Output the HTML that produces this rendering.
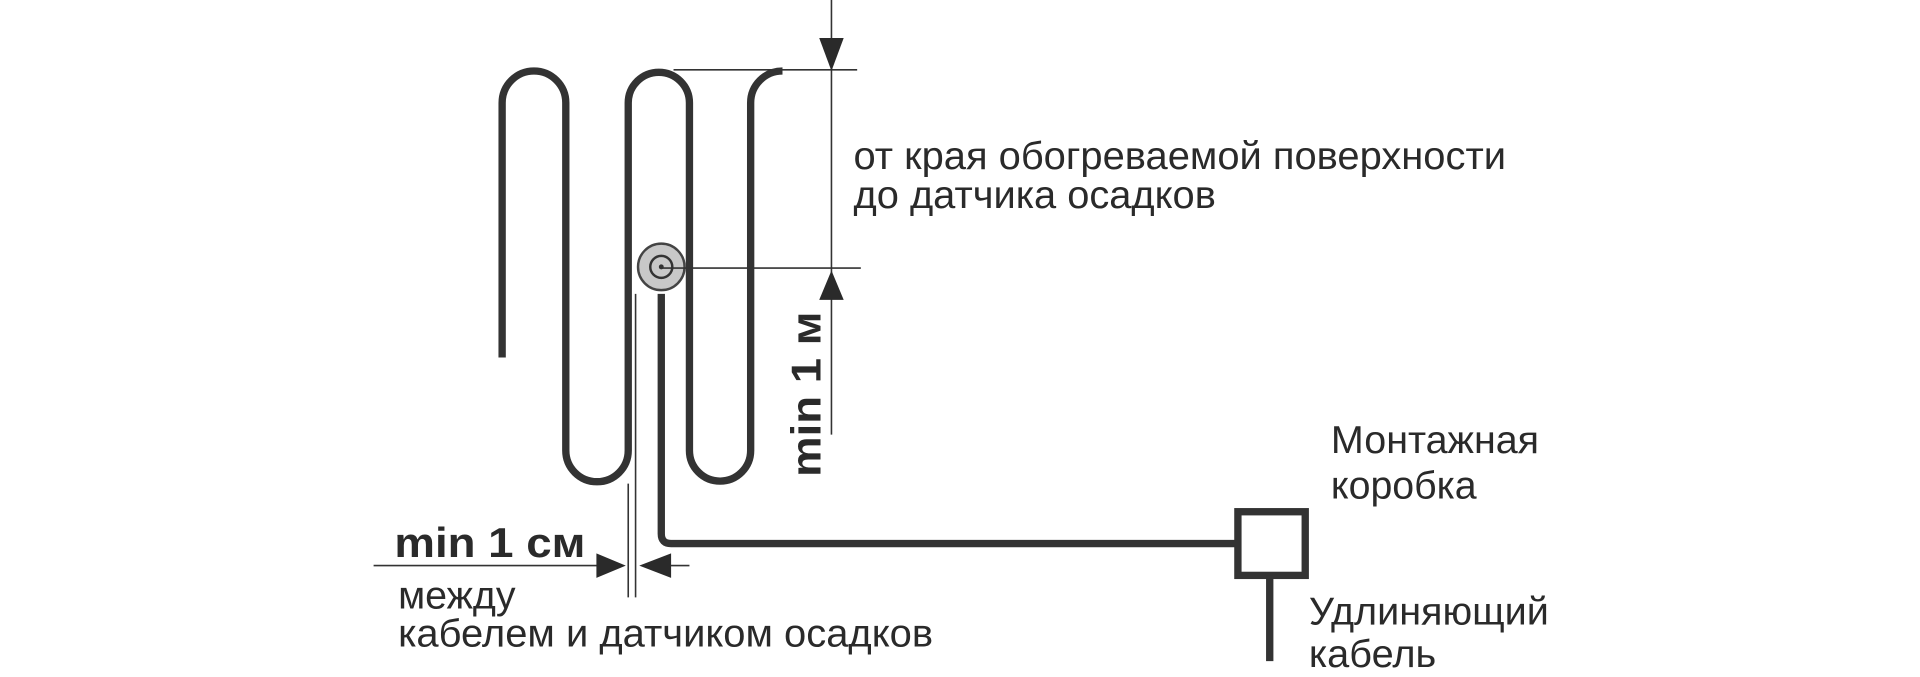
<!DOCTYPE html>
<html><head><meta charset="utf-8"><style>
html,body{margin:0;padding:0;background:#fff;}
svg{display:block;}
text{font-family:"Liberation Sans",sans-serif;fill:#2a2a2a;}
</style></head><body>
<svg width="1920" height="677" viewBox="0 0 1568 553" xmlns="http://www.w3.org/2000/svg">
<g fill="none" stroke="#333" stroke-width="6" stroke-linecap="butt">
<path d="M410 292 V84 A26 26 0 0 1 462 84 V368 A25.5 25.5 0 0 0 513 368 V84 A25 25 0 0 1 563 84 V368 A25 25 0 0 0 613 368 V84 A26 26 0 0 1 639 58"/>
<path d="M540 240 V436 Q540 444 548 444 H1010"/>
<rect x="1011" y="418" width="55" height="52"/>
<path d="M1037 470 V540"/>
</g>
<circle cx="540" cy="218" r="19" fill="#c8c8c8" stroke="#444" stroke-width="2"/>
<circle cx="540" cy="218" r="9" fill="none" stroke="#333" stroke-width="2"/>
<circle cx="540" cy="218" r="2" fill="#333"/>
<g stroke="#333" stroke-width="1.3" fill="none">
<path d="M679 0 V355"/>
<path d="M550 57 H700"/>
<path d="M540 219 H703"/>
<path d="M513 395 V488"/>
<path d="M519 240 V488"/>
<path d="M305 462 H490"/>
<path d="M540 462 H563"/>
</g>
<g fill="#2a2a2a">
<polygon points="669,31 689,31 679,58"/>
<polygon points="669,245 689,245 679,221"/>
<polygon points="487,452 487,472 511,462"/>
<polygon points="548,452 548,472 522,462"/>
</g>
<g font-size="32">
<text x="697" y="138" textLength="533" lengthAdjust="spacingAndGlyphs">от края обогреваемой поверхности</text>
<text x="697" y="170" textLength="296" lengthAdjust="spacingAndGlyphs">до датчика осадков</text>
<text x="325" y="497" textLength="96" lengthAdjust="spacingAndGlyphs">между</text>
<text x="325" y="528" textLength="437" lengthAdjust="spacingAndGlyphs">кабелем и датчиком осадков</text>
<text x="1087" y="370" textLength="170" lengthAdjust="spacingAndGlyphs">Монтажная</text>
<text x="1087" y="407" textLength="119" lengthAdjust="spacingAndGlyphs">коробка</text>
<text x="1069" y="510" textLength="196" lengthAdjust="spacingAndGlyphs">Удлиняющий</text>
<text x="1069" y="545" textLength="104" lengthAdjust="spacingAndGlyphs">кабель</text>
</g>
<text transform="translate(670,322) rotate(-90)" text-anchor="middle" font-size="34" font-weight="bold" textLength="135" lengthAdjust="spacingAndGlyphs">min 1 м</text>
<text x="322" y="455" font-size="34" font-weight="bold" textLength="156" lengthAdjust="spacingAndGlyphs">min 1 см</text>
</svg>
</body></html>
